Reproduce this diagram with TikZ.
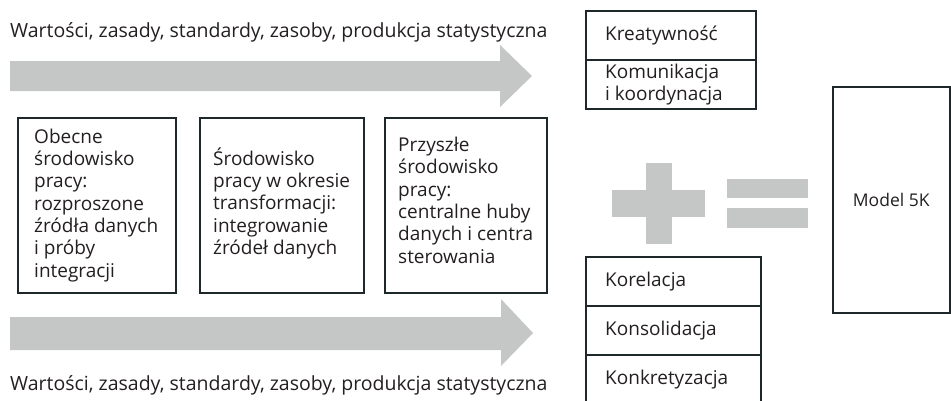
\documentclass[tikz,border=0pt]{standalone}
\usepackage{fontspec}
\setmainfont{Open Sans}
\definecolor{arrowgrey}{RGB}{197,199,198}
\definecolor{boxline}{RGB}{30,40,42}
\definecolor{txt}{RGB}{35,31,32}
\begin{document}
\begin{tikzpicture}[x=1pt,y=-1pt,
  every node/.style={text=txt,font=\fontsize{19}{22.3}\selectfont},
  lbl/.style={anchor=base west,inner sep=0pt,font=\fontsize{19.5}{22.3}\selectfont},
  bigbox/.style={draw=boxline,line width=1.5pt,anchor=north west,
    minimum height=175pt,inner sep=0pt},
  boxtext/.style={anchor=west,align=left,inner sep=0pt},
  cell/.style={draw=boxline,line width=1.5pt,anchor=north west,
    minimum height=49pt,inner sep=0pt},
  grey/.style={fill=arrowgrey,draw=none}]
\useasboundingbox (0,0) rectangle (951,400);

% labels
\node[lbl] (toplbl) at (10,37) {Wartości, zasady, standardy, zasoby, produkcja statystyczna};
\node[lbl] (botlbl) at (10,390) {Wartości, zasady, standardy, zasoby, produkcja statystyczna};

% big arrows
\fill[arrowgrey] (10,61) -- (500,61) -- (500,45) -- (532,76) -- (500,107) -- (500,91) -- (10,91) -- cycle;
\fill[arrowgrey] (10,317) -- (501,317) -- (501,299) -- (533,333) -- (501,366) -- (501,350) -- (10,350) -- cycle;

% three boxes
\node[bigbox,minimum width=158pt] (b1) at (17,117) {};
\node[boxtext] (t1) at ([xshift=17pt]b1.west)
  {Obecne\\środowisko\\pracy:\\rozproszone\\źródła danych\\i próby\\integracji};
\node[bigbox,minimum width=164pt] (b2) at (199,117) {};
\node[boxtext] (t2) at ([xshift=14pt,yshift=2pt]b2.west)
  {Środowisko\\pracy w okresie\\transformacji:\\integrowanie\\źródeł danych};
\node[bigbox,minimum width=162pt] (b3) at (384,117) {};
\node[boxtext] (t3) at ([xshift=14pt,yshift=5pt]b3.west)
  {Przyszłe\\środowisko\\pracy:\\centralne huby\\danych i centra\\sterowania};

% top right stack
\node[cell,minimum width=170pt] (kre) at (585,10) {};
\node[boxtext] (tkre) at ([xshift=20pt]kre.west) {Kreatywność};
\node[cell,minimum width=170pt] (kom) at (585,59) {};
\node[boxtext] (tkom) at ([xshift=20pt]kom.west) {Komunikacja\\i koordynacja};

% bottom right stack
\node[cell,minimum width=175pt] (kor) at (585,256) {};
\node[boxtext] (tkor) at ([xshift=20pt]kor.west) {Korelacja};
\node[cell,minimum width=175pt] (kon) at (585,305) {};
\node[boxtext] (tkon) at ([xshift=20pt]kon.west) {Konsolidacja};
\node[cell,minimum width=175pt] (konk) at (585,354) {};
\node[boxtext] (tkonk) at ([xshift=20pt]konk.west) {Konkretyzacja};

% plus
\fill[arrowgrey] (612,190) rectangle (705,217);
\fill[arrowgrey] (646,163) rectangle (672,244);
% equals
\fill[arrowgrey] (727,179) rectangle (808,198);
\fill[arrowgrey] (727,208) rectangle (808,228);

% model box
\node[draw=boxline,line width=1.5pt,anchor=north west,minimum width=117pt,
  minimum height=226pt,font=\fontsize{17.5}{21}\selectfont] (model) at (832,86) {Model 5K};
\end{tikzpicture}
\end{document}
